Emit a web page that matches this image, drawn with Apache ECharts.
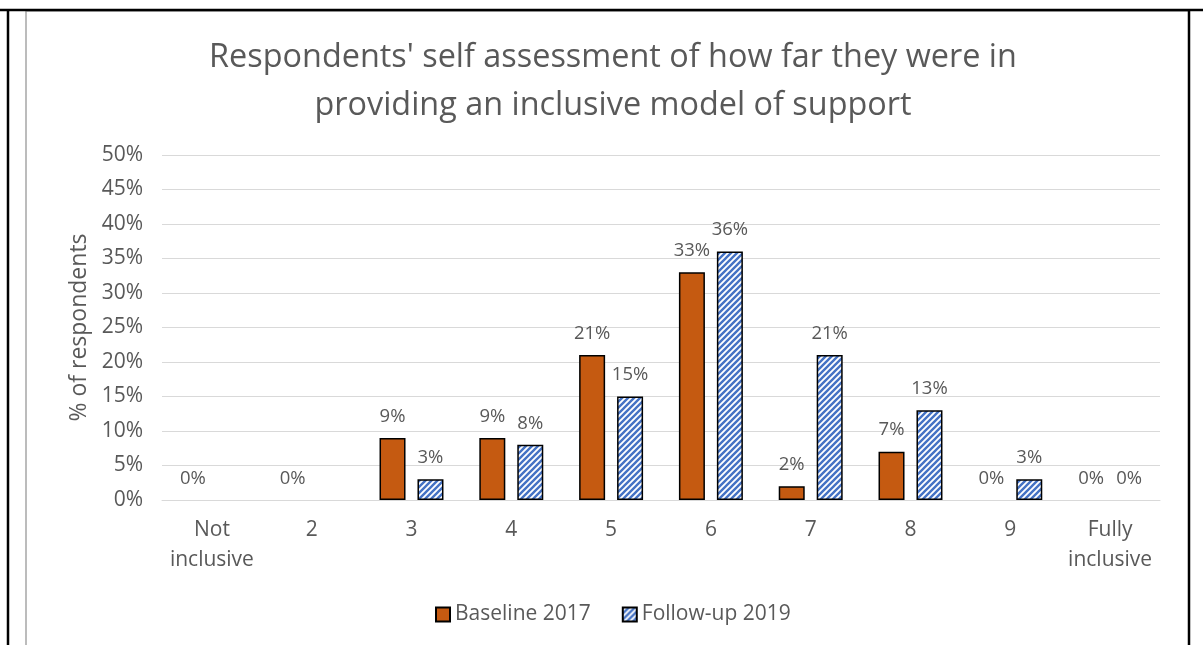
<!DOCTYPE html>
<html>
<head>
<meta charset="utf-8">
<script src="https://cdn.jsdelivr.net/npm/echarts@6/dist/echarts.min.js"></script>
<style>
html,body{margin:0;padding:0;background:#fff;}
#chart{width:1203px;height:645px;}
</style>
</head>
<body>
<div id="chart"></div>
<script>
const categories = ['Not\ninclusive', '2', '3', '4', '5', '6', '7', '8', '9', 'Fully\ninclusive'];
const baseline2017 = [0, 0, 9, 9, 21, 33, 2, 7, 0, 0];
const followup2019 = [null, null, 3, 8, 15, 36, 21, 13, 3, 0];
const yTicks = [0, 5, 10, 15, 20, 25, 30, 35, 40, 45, 50];

const FONT = 'Open Sans';
const GREY = '#595959';

function stripePattern() {
  const s = 6;
  const c = document.createElement('canvas');
  c.width = s; c.height = s;
  const ctx = c.getContext('2d');
  ctx.fillStyle = '#ffffff';
  ctx.fillRect(0, 0, s, s);
  ctx.strokeStyle = '#4472C4';
  ctx.lineWidth = 2.4;
  ctx.beginPath();
  ctx.moveTo(0, s); ctx.lineTo(s, 0);
  ctx.moveTo(-s / 2, s / 2); ctx.lineTo(s / 2, -s / 2);
  ctx.moveTo(s / 2, s * 1.5); ctx.lineTo(s * 1.5, s / 2);
  ctx.stroke();
  return c;
}

function toItems(arr) {
  return arr.map(v => v === null ? '-' : (v === 0 ? { value: v, itemStyle: { borderWidth: 0 } } : v));
}

const chart = echarts.init(document.getElementById('chart'), null, { renderer: 'canvas' });
const labelStyle = {
  show: true,
  position: 'top',
  distance: 12,
  formatter: p => p.value + '%',
  fontFamily: FONT,
  fontSize: 18.5,
  color: GREY
};

chart.setOption({
  backgroundColor: '#ffffff',
  animation: false,
  title: {
    text: "Respondents' self assessment of how far they were in\nproviding an inclusive model of support",
    left: 608,
    textAlign: 'center',
    top: 29,
    textStyle: { fontFamily: FONT, fontSize: 32.4, fontWeight: 'normal', color: GREY, lineHeight: 48 }
  },
  legend: {
    bottom: 15,
    left: 430,
    itemWidth: 14,
    itemHeight: 14,
    itemGap: 31,
    textStyle: { fontFamily: FONT, fontSize: 21, color: GREY },
    data: [
      { name: 'Baseline 2017', icon: 'rect' },
      { name: 'Follow-up 2019', icon: 'rect' }
    ]
  },
  grid: { left: 162, right: 43, top: 155, bottom: 145, containLabel: false },
  xAxis: {
    type: 'category',
    data: categories,
    axisLine: { lineStyle: { color: '#D9D9D9', width: 1 } },
    axisTick: { show: false },
    axisLabel: { fontFamily: FONT, fontSize: 21, color: GREY, margin: 15, lineHeight: 30, interval: 0 }
  },
  yAxis: {
    type: 'value',
    min: 0,
    max: 50,
    interval: 5,
    name: '% of respondents',
    nameLocation: 'middle',
    nameGap: 70,
    nameTextStyle: { fontFamily: FONT, fontSize: 23, color: GREY },
    axisLine: { show: false },
    axisTick: { show: false },
    axisLabel: { fontFamily: FONT, fontSize: 21, color: GREY, margin: 19, formatter: v => v + '%' },
    splitLine: { lineStyle: { color: '#D9D9D9', width: 1 } }
  },
  series: [
    {
      name: 'Baseline 2017',
      type: 'bar',
      data: toItems(baseline2017),
      barWidth: 26,
      barGap: '46%',
      itemStyle: { color: '#C55A11', borderColor: '#000000', borderWidth: 1.5 },
      label: labelStyle
    },
    {
      name: 'Follow-up 2019',
      type: 'bar',
      data: toItems(followup2019),
      barWidth: 26,
      barGap: '46%',
      itemStyle: { color: { image: stripePattern(), repeat: 'repeat' }, borderColor: '#000000', borderWidth: 1.5 },
      label: labelStyle
    }
  ],
  graphic: [
    { type: 'rect', shape: { x: 26, y: 11, width: 1163, height: 700 }, style: { fill: 'none', stroke: '#A6A6A6', lineWidth: 1.5 }, silent: true },
    { type: 'line', shape: { x1: 0, y1: 10, x2: 1203, y2: 10 }, style: { stroke: '#000000', lineWidth: 2.5 }, silent: true },
    { type: 'line', shape: { x1: 8, y1: 10, x2: 8, y2: 645 }, style: { stroke: '#000000', lineWidth: 2.5 }, silent: true },
    { type: 'line', shape: { x1: 1189, y1: 10, x2: 1189, y2: 645 }, style: { stroke: '#000000', lineWidth: 2.5 }, silent: true }
  ]
});
</script>
</body>
</html>
